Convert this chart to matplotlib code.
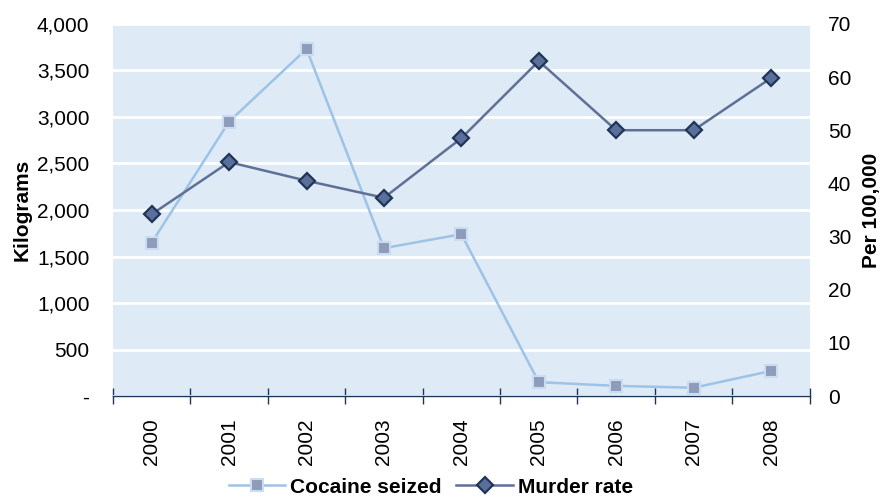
import matplotlib.pyplot as plt
from matplotlib.ticker import FuncFormatter, FixedLocator

plt.rcParams['font.family'] = ['Liberation Sans', 'DejaVu Sans']

years = ['2000', '2001', '2002', '2003', '2004', '2005', '2006', '2007', '2008']
cocaine_kg = [1650, 2950, 3730, 1590, 1740, 150, 110, 90, 270]
murder_rate = [34.2, 44.0, 40.5, 37.3, 48.5, 63.0, 50.0, 50.0, 59.8]

bg = '#DEEAF6'
coke_line = '#9DC3E6'
coke_face = '#8E9BBA'
murder_line = '#5F6F96'
murder_face = '#5B6F9B'
murder_edge = '#1F3557'
axis_col = '#1F3557'
fs = 15

fig = plt.figure(figsize=(8.83, 4.97), dpi=100)
ax = fig.add_axes([0.128, 0.203, 0.789, 0.749])
ax2 = ax.twinx()

x = list(range(len(years)))

ax.set_facecolor(bg)
ax.set_zorder(0)
ax2.set_zorder(1)
ax2.patch.set_visible(False)

# cocaine drawn on the right axis after rescaling so it sits above the grid
c_line, = ax2.plot(x, [v * 70 / 4000 for v in cocaine_kg], color=coke_line, lw=1.8,
                   marker='s', ms=8, mfc=coke_face, mec='#C9DCF0', mew=1.5,
                   label='Cocaine seized', zorder=3)
m_line, = ax2.plot(x, murder_rate, color=murder_line, lw=1.8,
                   marker='D', ms=8, mfc=murder_face, mec=murder_edge, mew=1.6,
                   label='Murder rate', zorder=4)

ax.set_xlim(-0.5, len(years) - 0.5)
ax.set_ylim(0, 4000)
ax2.set_ylim(0, 70)

ax.set_yticks(range(0, 4001, 500))
ax.yaxis.set_major_formatter(FuncFormatter(lambda v, p: '-' if v == 0 else f'{int(v):,}'))
ax2.set_yticks(range(0, 71, 10))

ax.grid(axis='y', color='white', lw=2)
ax.set_axisbelow(True)

ax.set_xticks(x)
ax.set_xticklabels(years, rotation=90)
ax.xaxis.set_minor_locator(FixedLocator([i - 0.5 for i in range(len(years) + 1)]))
ax.tick_params(axis='x', which='major', length=0, pad=16, labelsize=fs)
ax.tick_params(axis='x', which='minor', direction='inout', length=12, color=axis_col, width=1)
ax.tick_params(axis='y', length=0, pad=17, labelsize=fs)
ax2.tick_params(axis='y', length=0, pad=13, labelsize=fs)
ax2.tick_params(axis='x', length=0)

for a in (ax, ax2):
    for s in ['top', 'left', 'right', 'bottom']:
        a.spines[s].set_visible(False)
ax.spines['bottom'].set_visible(True)
ax.spines['bottom'].set_color(axis_col)
ax.spines['bottom'].set_linewidth(1)

ax.set_ylabel('Kilograms', fontsize=fs, fontweight='bold', labelpad=4)
ax2.set_ylabel('Per 100,000', fontsize=fs, fontweight='bold', labelpad=8)

fig.legend(handles=[c_line, m_line], loc='center', bbox_to_anchor=(0.488, 0.02),
           ncol=2, frameon=False, prop={'weight': 'bold', 'size': fs},
           handlelength=2.7, handletextpad=0.25, columnspacing=0.7, borderaxespad=0)

fig.savefig('out.png', dpi=100)
